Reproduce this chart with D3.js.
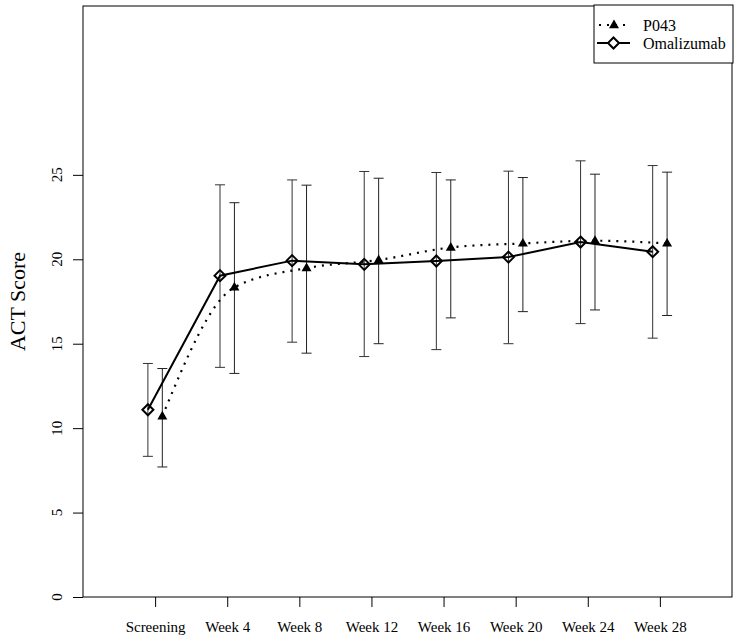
<!DOCTYPE html>
<html>
<head>
<meta charset="utf-8">
<script src="https://cdn.jsdelivr.net/npm/d3@7"></script>
<style>
  html, body { margin: 0; padding: 0; background: #fff; }
  svg text { font-family: "Liberation Serif", "Times New Roman", serif; fill: #000; }
</style>
</head>
<body>
<svg id="chart" width="740" height="642"></svg>
<script>
const categories = ["Screening", "Week 4", "Week 8", "Week 12", "Week 16", "Week 20", "Week 24", "Week 28"];
const omalMean  = [11.09, 19.03, 19.92, 19.70, 19.90, 20.13, 21.02, 20.45];
const omalUpper = [13.83, 24.41, 24.70, 25.20, 25.14, 25.22, 25.83, 25.55];
const omalLower = [8.33, 13.60, 15.09, 14.24, 14.65, 15.00, 16.19, 15.33];
const p043Mean  = [10.70, 18.34, 19.48, 19.96, 20.70, 20.94, 21.10, 20.94];
const p043Upper = [13.53, 23.35, 24.39, 24.80, 24.70, 24.84, 25.04, 25.16];
const p043Lower = [7.70, 13.24, 14.44, 15.00, 16.53, 16.90, 17.00, 16.67];
const yTicks = [0, 5, 10, 15, 20, 25];
const seriesNames = ["P043", "Omalizumab"];

const svg = d3.select("#chart");
const L = 83, R = 732, T = 6, B = 597;
const x = d3.scaleLinear().domain([0, 9]).range([L, R]);
const y = d3.scaleLinear().domain([0, 35]).range([B, T]);

// frame
svg.append("rect").attr("x", L).attr("y", T).attr("width", R - L).attr("height", B - T)
  .attr("fill", "none").attr("stroke", "#000").attr("stroke-width", 1);

// y axis
const yAxis = svg.append("g").attr("transform", `translate(${L},0)`)
  .call(d3.axisLeft(y).tickValues(yTicks).tickSize(10).tickFormat(d3.format("d")));
yAxis.select(".domain").remove();
yAxis.selectAll("line").attr("stroke", "#000");
yAxis.selectAll("text").remove();
yTicks.forEach(t => {
  svg.append("text").attr("transform", `translate(62,${y(t)}) rotate(-90)`)
    .attr("text-anchor", "middle").style("font-size", "15px").text(t);
});

// x axis
const xIdx = categories.map((c, i) => i + 1);
const xAxis = svg.append("g").attr("transform", `translate(0,${B})`)
  .call(d3.axisBottom(x).tickValues(xIdx).tickSize(10).tickFormat((d) => categories[d - 1]));
xAxis.attr("font-family", null);
xAxis.select(".domain").remove();
xAxis.selectAll("line").attr("stroke", "#000");
xAxis.selectAll("text").attr("dy", null).attr("y", 35)
  .style("font-size", "15px").style("font-family", "'Liberation Serif', serif");

// axis title
svg.append("text").attr("transform", `translate(25,${(y(10) + y(25)) / 2}) rotate(-90)`)
  .attr("text-anchor", "middle").style("font-size", "22px").text("ACT Score");

const off = 0.1;
const omal = categories.map((c, i) => ({ x: i + 1 - off, m: omalMean[i], lo: omalLower[i], hi: omalUpper[i] }));
const p043 = categories.map((c, i) => ({ x: i + 1 + off, m: p043Mean[i], lo: p043Lower[i], hi: p043Upper[i] }));

function errorBars(data, color) {
  const g = svg.append("g").attr("stroke", color).attr("stroke-width", 1);
  data.forEach(d => {
    g.append("line").attr("x1", x(d.x)).attr("x2", x(d.x)).attr("y1", y(d.lo)).attr("y2", y(d.hi));
    g.append("line").attr("x1", x(d.x) - 5).attr("x2", x(d.x) + 5).attr("y1", y(d.lo)).attr("y2", y(d.lo));
    g.append("line").attr("x1", x(d.x) - 5).attr("x2", x(d.x) + 5).attr("y1", y(d.hi)).attr("y2", y(d.hi));
  });
}
errorBars(omal, "#333");
errorBars(p043, "#222");

// lines
const lineSolid = d3.line().x(d => x(d.x)).y(d => y(d.m));
const lineCurve = d3.line().x(d => x(d.x)).y(d => y(d.m)).curve(d3.curveMonotoneX);
svg.append("path").datum(p043).attr("d", lineCurve).attr("fill", "none")
  .attr("stroke", "#000").attr("stroke-width", 2.2).attr("stroke-dasharray", "2,6");
svg.append("path").datum(omal).attr("d", lineSolid).attr("fill", "none")
  .attr("stroke", "#000").attr("stroke-width", 2);

// markers
const diamond = (cx, cy) => `M${cx},${cy - 5.5}L${cx + 5.5},${cy}L${cx},${cy + 5.5}L${cx - 5.5},${cy}Z`;
const triangle = (cx, cy) => `M${cx},${cy - 5.5}L${cx + 5},${cy + 3.2}L${cx - 5},${cy + 3.2}Z`;
svg.append("g").selectAll("path").data(omal).join("path")
  .attr("d", d => diamond(x(d.x), y(d.m))).attr("fill", "none").attr("stroke", "#000").attr("stroke-width", 2);
svg.append("g").selectAll("path").data(p043).join("path")
  .attr("d", d => triangle(x(d.x), y(d.m))).attr("fill", "#000");

// legend
const lg = svg.append("g");
lg.append("rect").attr("x", 594).attr("y", 5).attr("width", 139).attr("height", 58)
  .attr("fill", "#fff").attr("stroke", "#000").attr("stroke-width", 1);
lg.append("line").attr("x1", 598).attr("x2", 630).attr("y1", 25).attr("y2", 25)
  .attr("stroke", "#000").attr("stroke-width", 2.2).attr("stroke-dasharray", "2,6").attr("stroke-dashoffset", -1);
lg.append("path").attr("d", triangle(614, 25)).attr("fill", "#000");
lg.append("line").attr("x1", 597).attr("x2", 630).attr("y1", 43).attr("y2", 43)
  .attr("stroke", "#000").attr("stroke-width", 2);
lg.append("path").attr("d", diamond(613.5, 43)).attr("fill", "#fff").attr("stroke", "#000").attr("stroke-width", 2);
seriesNames.forEach((n, i) => {
  lg.append("text").attr("x", 643).attr("y", 25 + i * 18).attr("dy", "0.35em")
    .style("font-size", "16px").text(n);
});
</script>
</body>
</html>
